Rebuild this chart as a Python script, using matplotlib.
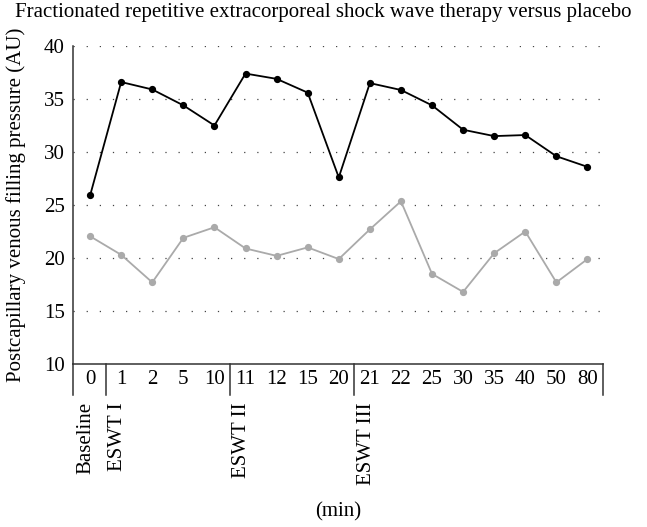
import matplotlib
matplotlib.use("Agg")
import matplotlib.pyplot as plt
import matplotlib.transforms as mtransforms

plt.rcParams['font.family'] = ['Liberation Serif', 'DejaVu Serif']

tick_labels = ["0", "1", "2", "5", "10", "11", "12", "15", "20", "21", "22", "25", "30", "35", "40", "50", "80"]
eswt = [25.9, 36.6, 35.9, 34.4, 32.5, 37.4, 36.9, 35.6, 27.6, 36.5, 35.85, 34.4, 32.1, 31.5, 31.6, 29.6, 28.6]
placebo = [22.05, 20.3, 17.7, 21.9, 22.9, 20.9, 20.2, 21.0, 19.9, 22.7, 25.35, 18.5, 16.8, 20.45, 22.5, 17.7, 19.9]
group_labels = ["Baseline", "ESWT I", "ESWT II", "ESWT III"]
group_pos = [0, 1, 5, 9]
separators = [0.5, 4.5, 8.5]

FS = 15
W, H = 647, 527
fig = plt.figure(figsize=(W / 100, H / 100), dpi=100)
left, right, top, bottom = 73, 603, 46, 364
ax = fig.add_axes([left / W, 1 - bottom / H, (right - left) / W, (bottom - top) / H])

x = list(range(len(tick_labels)))
ax.plot(x, placebo, color="#aaaaaa", lw=1.3, marker="o", ms=4.2, zorder=3)
ax.plot(x, eswt, color="black", lw=1.3, marker="o", ms=4.2, zorder=4)

ax.set_xlim(-0.55, 16.5)
ax.set_ylim(10, 40)
ax.set_yticks([10, 15, 20, 25, 30, 35, 40])
ax.set_xticks([])
ax.tick_params(axis='y', length=0, labelsize=FS, pad=6)
for yv in [15, 20, 25, 30, 35, 40]:
    ax.axhline(yv, color="#444444", lw=0.9, ls=(0, (1, 9.5)), zorder=1)

for s in ["top", "right"]:
    ax.spines[s].set_visible(False)
ax.spines["left"].set_color("#333333")
ax.spines["bottom"].set_color("#333333")
ax.spines["left"].set_linewidth(1.1)
ax.spines["bottom"].set_linewidth(1.1)

trans = mtransforms.blended_transform_factory(ax.transData, ax.transAxes)
box_b = -(395 - bottom) / (bottom - top)
for i, lab in enumerate(tick_labels):
    ax.text(i, box_b / 2, lab, transform=trans, ha="center", va="center", fontsize=FS)
for sx in separators:
    ax.plot([sx, sx], [0, box_b], transform=trans, color="#333333", lw=1.1, clip_on=False)
ax.plot([-0.55, -0.55], [0, box_b], transform=trans, color="#333333", lw=1.1, clip_on=False)
ax.plot([16.5, 16.5], [0, box_b], transform=trans, color="#333333", lw=1.1, clip_on=False)

lab_top = -(402 - bottom) / (bottom - top)
for p, lab in zip(group_pos, group_labels):
    ax.text(p - 0.12, lab_top, lab, transform=trans, rotation=90, ha="center", va="top", fontsize=FS)

fig.text(338 / W, 1 - 512 / H, "(min)", ha="center", va="center", fontsize=FS)
fig.text(15 / W, 1 - 12 / H, "Fractionated repetitive extracorporeal shock wave therapy versus placebo",
         ha="left", va="center", fontsize=FS)
fig.text(16 / W, 1 - 205 / H, "Postcapillary venous filling pressure (AU)", rotation=90,
         ha="center", va="center", fontsize=FS)

fig.savefig("out.png", dpi=100)
